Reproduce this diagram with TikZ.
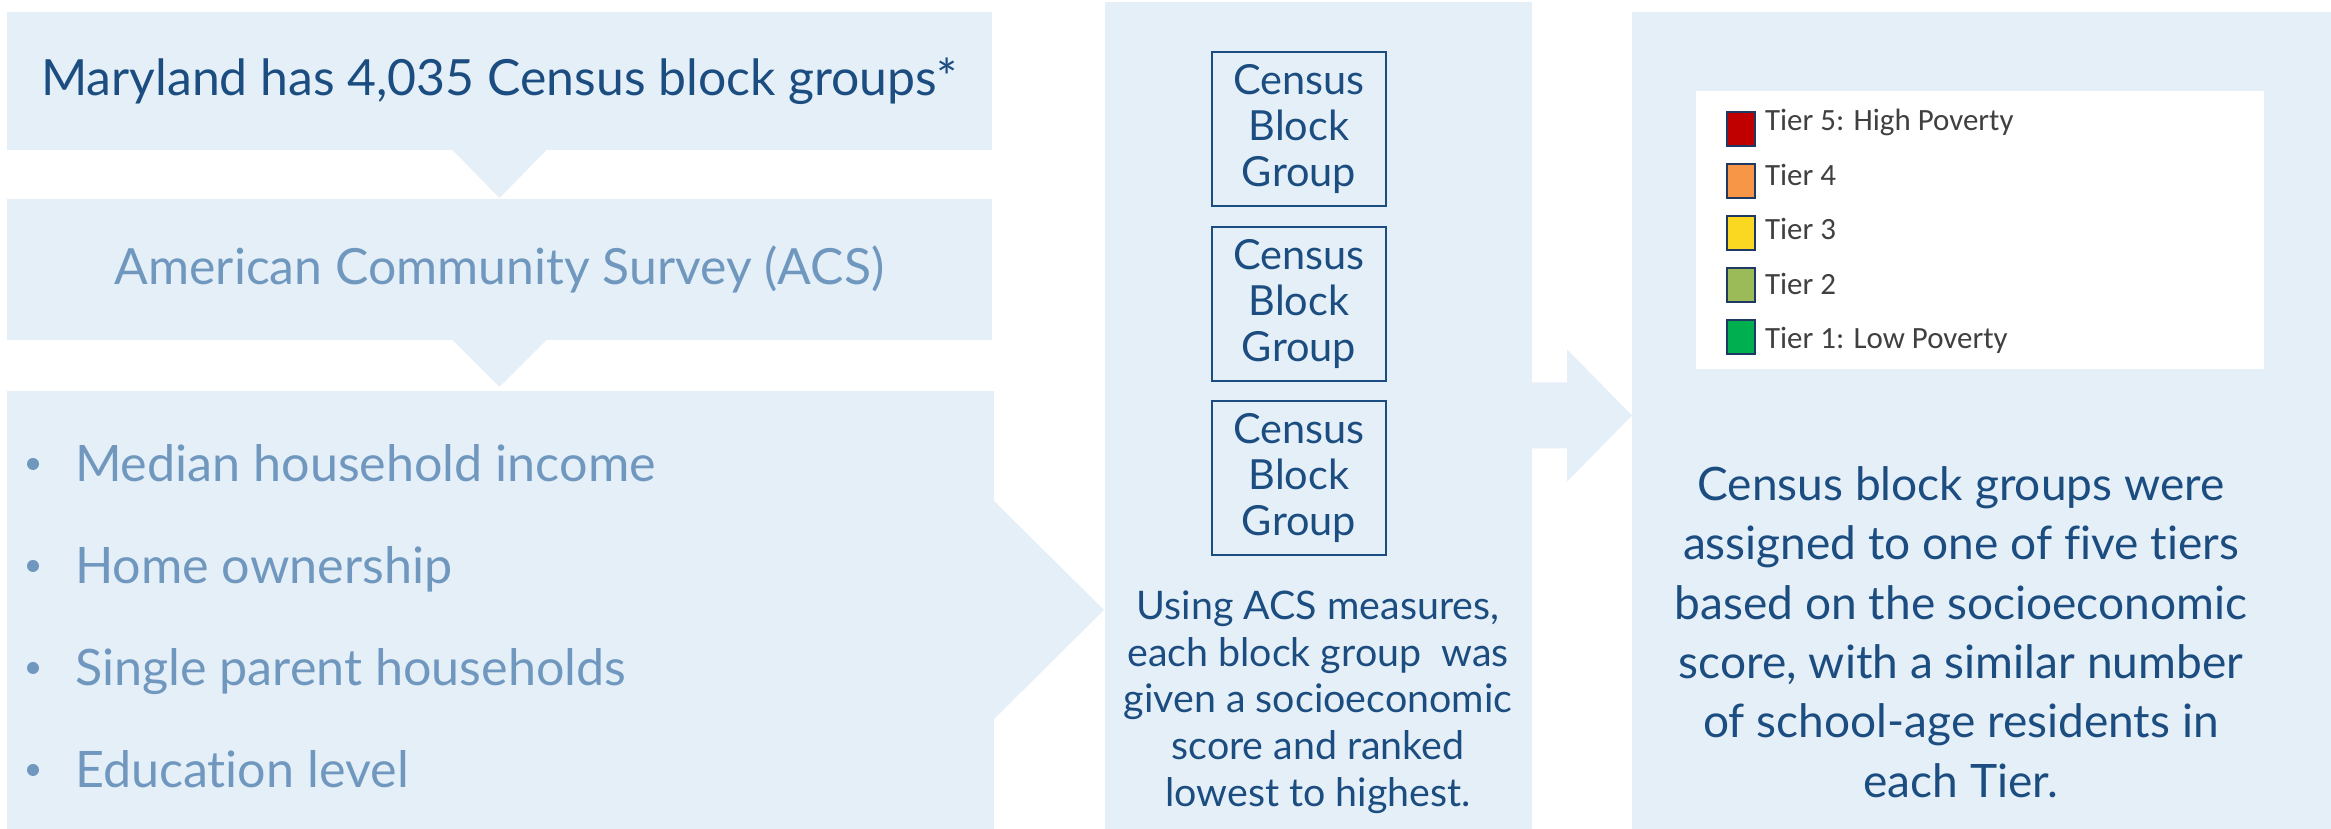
\documentclass[tikz,border=0pt]{standalone}
\usepackage{fontspec}
\setmainfont[Ligatures=NoCommon]{Lato}
\newfontfamily\legendfont{Carlito}
\usetikzlibrary{positioning,calc}
\definecolor{paleblue}{HTML}{E5EFF8}
\definecolor{darkblue}{HTML}{1C4D80}
\definecolor{greyblue}{HTML}{7098BF}
\definecolor{legendgrey}{HTML}{404040}
\definecolor{swatchedge}{HTML}{1F3864}
\definecolor{tierfive}{HTML}{C00000}
\definecolor{tierfour}{HTML}{F79646}
\definecolor{tierthree}{HTML}{FAD821}
\definecolor{tiertwo}{HTML}{9BBB59}
\definecolor{tierone}{HTML}{00B050}

\begin{document}
\begin{tikzpicture}[x=0.1mm, y=-0.1mm, inner sep=0pt, outer sep=0pt]
    \tikzstyle{panel}=[rectangle, fill=paleblue, anchor=north west]
    \tikzstyle{cbg}=[rectangle, draw=darkblue, line width=0.7pt, minimum width=17.4mm, minimum height=15.4mm, align=center, text=darkblue, font=\fontsize{11.8}{13.2}\selectfont]
    \tikzstyle{item}=[anchor=base west, text=greyblue, font=\fontsize{14.3}{16}\selectfont]
    \tikzstyle{dot}=[circle, fill=greyblue, minimum size=1.2mm]
    \tikzstyle{swatch}=[rectangle, draw=swatchedge, line width=0.8pt, minimum width=2.8mm, minimum height=3.4mm]
    \tikzstyle{tier}=[anchor=base west, text=legendgrey, font=\legendfont\fontsize{8.8}{10}\selectfont]
    \useasboundingbox (0,0) rectangle (2331,829);
    \fill[white] (0,0) rectangle (2331,829);

    \node[panel, minimum width=98.5mm, minimum height=13.8mm, text=darkblue, font=\fontsize{14.2}{16}\selectfont] (count) at (7,12) {Maryland has 4,035 Census block groups*};
    \fill[paleblue] ([xshift=-4.7mm]count.south) -- ([xshift=4.7mm]count.south) -- ([yshift=-4.8mm]count.south) -- cycle;
    \node[panel, minimum width=98.5mm, minimum height=14.1mm, text=greyblue, font=\fontsize{14.2}{16}\selectfont] (acs) at (7,199) {American Community Survey (ACS)};
    \fill[paleblue] ([xshift=-4.7mm]acs.south) -- ([xshift=4.7mm]acs.south) -- ([yshift=-4.7mm]acs.south) -- cycle;
    \node[panel, minimum width=98.7mm, minimum height=43.8mm] (measures) at (7,391) {};
    \fill[paleblue] ([yshift=10.9mm]measures.east) -- ([xshift=11mm]measures.east) -- ([yshift=-10.9mm]measures.east) -- cycle;
    \foreach \txt [count=\i] in {Median household income, Home ownership, Single parent households, Education level} {
      \node[dot] (dot\i) at (33, 362+102*\i) {};
      \node[item] (item\i) at (75, 380+102*\i) {\txt};
    }

    \node[panel, minimum width=42.7mm, minimum height=82.7mm] (rank) at (1105,2) {};
    \node[cbg] (cbg1) at (1299,129) {Census\\Block\\Group};
    \node[cbg, below=2.1mm of cbg1] (cbg2) {Census\\Block\\Group};
    \node[cbg, below=2mm of cbg2] (cbg3) {Census\\Block\\Group};
    \node[text=darkblue, align=center, font=\fontsize{11.2}{13.3}\selectfont] (ranktxt) at (1318,702) {Using ACS measures,\\each block group\ \ was\\given a socioeconomic\\score and ranked\\lowest to highest.};

    \node[panel, minimum width=69.9mm, minimum height=81.7mm] (tiers) at (1632,12) {};
    \coordinate (tip) at (tiers.west |- rank.east);
    \fill[paleblue] ([yshift=3.3mm]rank.east) -- ++(35,0) -- ++(0,-33) -- (tip) -- ++(-65,66) -- ++(0,-33) -- ++(-35,0) -- cycle;
    \node[rectangle, fill=white, minimum width=56.8mm, minimum height=27.8mm, anchor=north west] (legend) at (1696,91) {};
    \foreach \c/\t [count=\i] in {tierfive/Tier 5: High Poverty, tierfour/Tier 4, tierthree/Tier 3, tiertwo/Tier 2, tierone/Tier 1: Low Poverty} {
      \node[swatch, fill=\c] (sw\i) at (1741, 77+52*\i) {};
      \node[tier] (lab\i) at (1765, 76.5+54.5*\i) {\t};
    }
    \node[text=darkblue, align=center, font=\fontsize{13.1}{16.9}\selectfont] (tiertxt) at (1961,632) {Census block groups were\\assigned to one of five tiers\\based on the socioeconomic\\score, with a similar number\\of school-age residents in\\each Tier.};
\end{tikzpicture}
\end{document}
